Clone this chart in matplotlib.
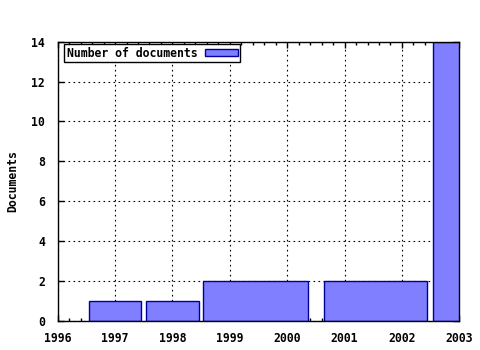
import matplotlib
matplotlib.use("Agg")
import matplotlib.pyplot as plt
from matplotlib.ticker import MultipleLocator

# Data
bar_start = [1996.55, 1997.54, 1998.53, 2000.65, 2002.54]
bar_end = [1997.45, 1998.46, 2000.36, 2002.44, 2003.46]
doc_counts = [1, 1, 2, 2, 14]
series_label = "Number of documents"
x_ticks = [1996, 1997, 1998, 1999, 2000, 2001, 2002, 2003]
y_ticks = [0, 2, 4, 6, 8, 10, 12, 14]

plt.rcParams['font.family'] = ['DejaVu Sans Mono']
plt.rcParams['font.weight'] = 'bold'
FS = 8.3

fig = plt.figure(figsize=(4.8, 3.5), dpi=100)
ax = fig.add_axes([0.1202, 0.0837, 0.9569 - 0.1202, 0.8809 - 0.0837])

widths = [e - s for s, e in zip(bar_start, bar_end)]
ax.bar(bar_start, doc_counts, width=widths, align='edge',
       facecolor='#7f7fff', edgecolor='#000099', linewidth=1.0,
       label=series_label, zorder=3)

ax.set_xlim(x_ticks[0], x_ticks[-1])
ax.set_ylim(y_ticks[0], y_ticks[-1])
ax.set_xticks(x_ticks)
ax.set_yticks(y_ticks)
ax.set_xticklabels([str(t) for t in x_ticks], fontsize=FS, fontweight='bold')
ax.set_yticklabels([str(t) for t in y_ticks], fontsize=FS, fontweight='bold')
ax.xaxis.set_minor_locator(MultipleLocator(0.2))

ax.tick_params(axis='both', which='major', direction='in', length=4, width=1,
               top=True, right=True, color='black')
ax.tick_params(axis='x', which='minor', direction='in', length=2, width=1,
               top=True, bottom=True)
ax.tick_params(axis='x', which='major', pad=8)
ax.tick_params(axis='y', which='major', pad=9)

ax.grid(True, which='major', linestyle=(0, (1.5, 3)), color='black',
        linewidth=0.8, zorder=0)
ax.set_axisbelow(True)
for sp in ax.spines.values():
    sp.set_linewidth(1)
    sp.set_color('black')
    sp.set_zorder(4)

ax.set_ylabel("Documents", fontsize=FS, fontweight='bold', labelpad=9)

leg = ax.legend(loc='upper left', bbox_to_anchor=(0.0164, 0.9907),
                borderaxespad=0, markerfirst=False, fancybox=False,
                framealpha=1, edgecolor='black', fontsize=FS,
                prop={'weight': 'bold', 'size': FS},
                handlelength=2.8, handleheight=0.5, handletextpad=0.7,
                borderpad=0.2)
leg.get_frame().set_linewidth(1)

fig.savefig("out.png", dpi=100)
